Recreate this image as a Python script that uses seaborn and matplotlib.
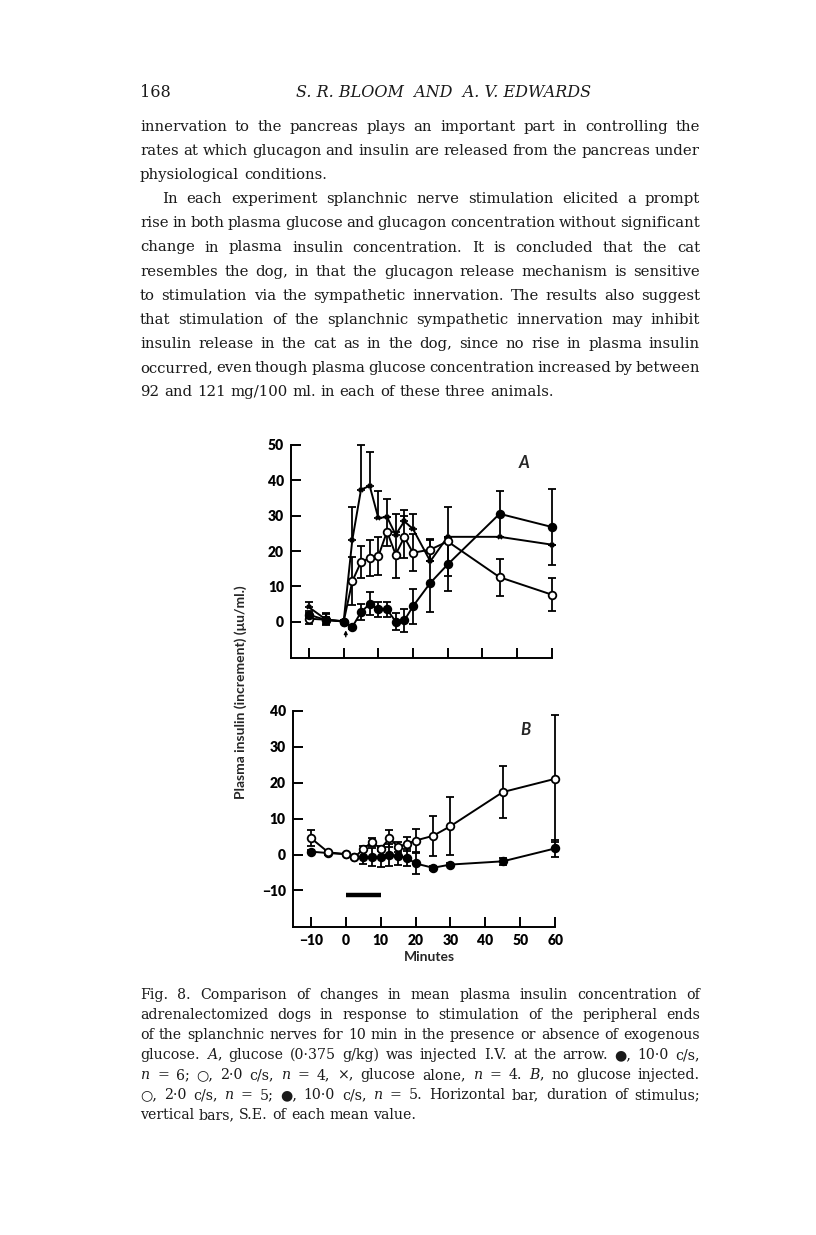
import matplotlib

matplotlib.use("Agg")
import matplotlib.pyplot as plt
import numpy as np
import seaborn as sns

W, H = 816, 1235

# ---- data (minutes, uU/ml increment) ----
times = [-10, -5, 0, 2.5, 5, 7.5, 10, 12.5, 15, 17.5, 20, 25, 30, 45, 60]

# Panel A: glucose injected at arrow
a_filled = [2.0, 0.5, 0.1, -1.4, 2.7, 5.1, 3.5, 3.5, 0.1, 0.4, 4.4, 11.0, 16.2, 30.5, 26.8]
a_filled_se = [1.0, 1.0, 0.5, 0.5, 2.3, 3.3, 2.2, 2.0, 2.5, 3.2, 5.0, 8.3, 7.6, 6.5, 10.7]
a_open = [0.9, 0.6, 0.1, 11.5, 16.9, 18.0, 18.5, 25.5, 19.0, 23.9, 19.5, 20.4, 22.7, 12.6, 7.7]
a_open_se = [1.5, 1.5, 0.3, 6.8, 4.4, 5.0, 5.4, 4.0, 6.5, 6.0, 5.2, 3.1, 9.7, 5.2, 4.7]
a_cross = [4.1, 0.6, 0.2, 23.2, 37.3, 38.4, 29.3, 29.6, 24.6, 28.4, 26.2, 17.1, 24.0, 24.0, 21.8]
a_cross_se = [1.5, 1.8, 0.0, 9.2, 12.7, 9.6, 7.5, 5.1, 5.9, 3.3, 4.3, 6.0, 0.0, 0.0, 0.0]

# Panel B: no glucose
b_open = [4.6, 0.6, 0.1, -0.8, 1.5, 3.5, 1.6, 4.5, 2.1, 3.0, 3.9, 5.2, 7.9, 17.4, 21.1]
b_open_se = [2.2, 0.5, 0.3, 0.3, 0.8, 1.2, 0.5, 2.3, 1.4, 2.0, 3.1, 5.5, 8.0, 7.2, 17.7]
b_filled = [0.8, 0.4, 0.1, -0.8, -0.6, -0.8, -0.6, -0.1, -0.4, -0.9, -2.5, -3.7, -2.8, -1.9, 1.7]
b_filled_se = [0.5, 0.4, 0.2, 0.3, 2.0, 2.5, 3.0, 3.0, 2.5, 2.3, 2.8, 0.5, 0.4, 1.0, 2.4]

x_ticks = [-10, 0, 10, 20, 30, 40, 50, 60]
a_yticks = [0, 10, 20, 30, 40, 50]
b_yticks = [-10, 0, 10, 20, 30, 40]
stim_window = [0, 10]

header = "S. R. BLOOM  AND  A. V. EDWARDS"
body_lines = [
    "innervation to the pancreas plays an important part in controlling the",
    "rates at which glucagon and insulin are released from the pancreas under",
    "physiological conditions.",
    "In each experiment splanchnic nerve stimulation elicited a prompt",
    "rise in both plasma glucose and glucagon concentration without significant",
    "change in plasma insulin concentration. It is concluded that the cat",
    "resembles the dog, in that the glucagon release mechanism is sensitive",
    "to stimulation via the sympathetic innervation. The results also suggest",
    "that stimulation of the splanchnic sympathetic innervation may inhibit",
    "insulin release in the cat as in the dog, since no rise in plasma insulin",
    "occurred, even though plasma glucose concentration increased by between",
    "92 and 121 mg/100 ml. in each of these three animals.",
]
caption_lines = [
    "Fig. 8. Comparison of changes in mean plasma insulin concentration of",
    "adrenalectomized dogs in response to stimulation of the peripheral ends",
    "of the splanchnic nerves for 10 min in the presence or absence of exogenous",
    "glucose. $A$, glucose (0·375 g/kg) was injected I.V. at the arrow. ●, 10·0 c/s,",
    "$n$ = 6; ○, 2·0 c/s, $n$ = 4, ×, glucose alone, $n$ = 4. $B$, no glucose injected.",
    "○, 2·0 c/s, $n$ = 5; ●, 10·0 c/s, $n$ = 5. Horizontal bar, duration of stimulus;",
    "vertical bars, S.E. of each mean value.",
]

sns.set_theme(style="ticks")
plt.rcParams["font.family"] = ["DejaVu Serif"]
plt.rcParams["mathtext.fontset"] = "dejavuserif"

fig = plt.figure(figsize=(W / 100, H / 100), dpi=100)
fig.patch.set_facecolor("white")
renderer = fig.canvas.get_renderer()


def px(x, y):
    return x / W, 1 - y / H


def text_width(s, size, family):
    t = fig.text(0, 0, s, fontsize=size, family=family)
    w = t.get_window_extent(renderer).width
    t.remove()
    return w


def justified(line, x0, x1, y, size, last=False, family="DejaVu Serif"):
    words = line.split(" ")
    texts = [fig.text(0, 0, w, fontsize=size, family=family, va="baseline",
                      color="#1a1a1a") for w in words]
    widths = [t.get_window_extent(renderer).width for t in texts]
    if last or len(words) == 1:
        gap = text_width("a a", size, family) - text_width("aa", size, family)
    else:
        gap = (x1 - x0 - sum(widths)) / (len(words) - 1)
    x = x0
    for t, w in zip(texts, widths):
        t.set_position(px(x, y))
        x += w + gap


# page header
fig.text(*px(140, 97), "168", fontsize=11.5, va="baseline", color="#1a1a1a")
fig.text(*px(444, 97), header, fontsize=11.5, style="italic", ha="center",
         va="baseline", color="#1a1a1a")

for i, line in enumerate(body_lines):
    x0 = 162 if i == 3 else 140
    justified(line, x0, 700, 131 + i * 24.1, 10.7, last=i in (2, 11))

for i, line in enumerate(caption_lines):
    justified(line, 140, 700, 999 + i * 20, 10.2, last=i == len(caption_lines) - 1)

# ---- chart panels ----
ax_a = fig.add_axes([291 / W, 1 - 658 / H, 271 / W, 231 / H])
ax_b = fig.add_axes([292.7 / W, 1 - 927 / H, 273 / W, 234 / H])

sans = "Lato"


def draw_series(ax, y, se, face, marker="o", ms=5.5, upper_only=False):
    lo = np.zeros(len(se)) if upper_only else se
    ax.errorbar(times, y, yerr=[lo, se], fmt="none", ecolor="black",
                elinewidth=1.3, capsize=2.8, capthick=1.3, zorder=2, clip_on=False)
    sns.lineplot(x=times, y=y, ax=ax, color="black", lw=1.4, marker=marker,
                 markersize=ms, markerfacecolor=face, markeredgecolor="black",
                 markeredgewidth=1.3, zorder=3, clip_on=False, legend=False)


draw_series(ax_a, a_cross, a_cross_se, "black", marker="x", ms=3.5, upper_only=True)
draw_series(ax_a, a_open, a_open_se, "white")
draw_series(ax_a, a_filled, a_filled_se, "black")

draw_series(ax_b, b_filled, b_filled_se, "black")
draw_series(ax_b, b_open, b_open_se, "white")

# arrow marking glucose injection
ax_a.annotate("", xy=(0.6, -1.6), xytext=(0.6, -5.0),
              arrowprops=dict(arrowstyle="-|>", color="black", lw=1.0, mutation_scale=5))
# stimulus duration bar
ax_b.hlines(-11.3, stim_window[0], stim_window[1], color="black", lw=3.2)

ax_a.set_ylim(-10.2, 55)
ax_b.set_ylim(-20.2, 45)
for ax, yt in ((ax_a, a_yticks), (ax_b, b_yticks)):
    ax.set_xlim(-15.2, 63)
    ax.set_xticks(x_ticks)
    ax.set_yticks(yt)
    ax.set_facecolor("none")
    for s in ("top", "right"):
        ax.spines[s].set_visible(False)
    ax.spines["left"].set_bounds(ax.get_ylim()[0], yt[-1])
    ax.spines["bottom"].set_bounds(-15.2, 60)
    for s in ("left", "bottom"):
        ax.spines[s].set_linewidth(1.4)
        ax.spines[s].set_color("black")
    ax.tick_params(direction="in", length=7, width=1.4, colors="black", pad=5)
    ax.set_xlabel("")
    ax.set_ylabel("")

ax_a.set_yticklabels([str(v) for v in a_yticks])
ax_b.set_yticklabels(["\u221210" if v < 0 else str(v) for v in b_yticks])
for lab in ax_b.get_yticklabels() + ax_a.get_yticklabels():
    lab.set_fontfamily(sans)
    lab.set_fontweight("heavy")
    lab.set_fontsize(10)
ax_a.set_xticklabels([])
ax_b.set_xticklabels(["\u221210" if v < 0 else str(v) for v in x_ticks],
                     fontfamily=sans, fontweight="heavy", fontsize=10)
ax_b.set_xlabel("Minutes", fontfamily=sans, fontweight="bold", fontsize=10, labelpad=3)

ax_a.text(52, 44.8, "A", fontfamily=sans, fontweight="bold", style="italic",
          fontsize=12, ha="center", va="center")
ax_b.text(51.4, 34.8, "B", fontfamily=sans, fontweight="bold", style="italic",
          fontsize=12, ha="center", va="center")

fig.text(*px(241, 692), "Plasma insulin (increment) (\u03bcu/ml.)", rotation=90,
         ha="center", va="center", family=[sans, "DejaVu Sans"], fontweight="bold",
         fontsize=10)

fig.savefig("out.png", dpi=100)
